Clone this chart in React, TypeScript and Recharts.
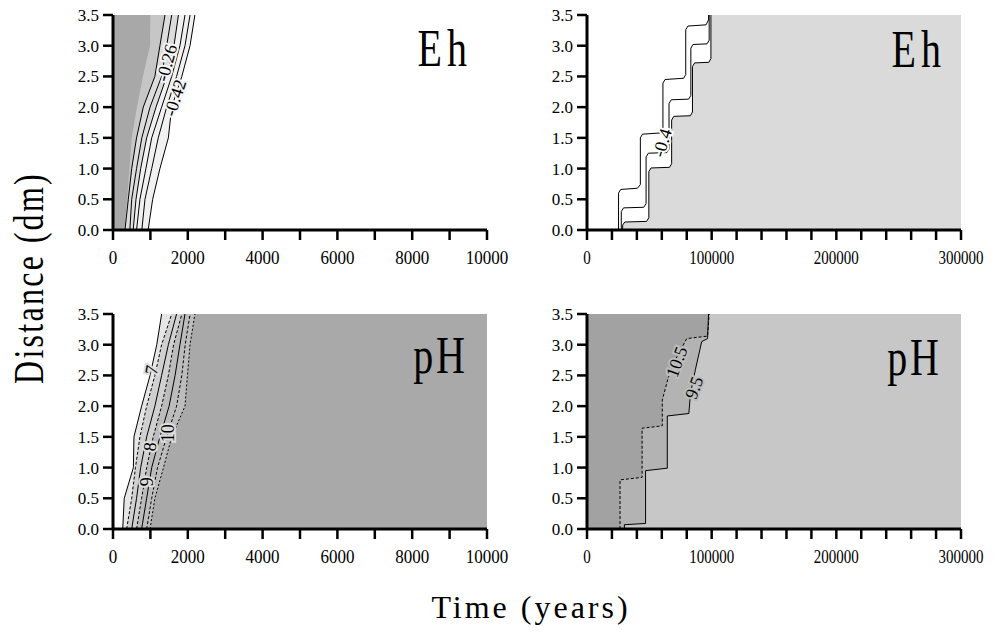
import React from 'react';
import { ComposedChart, Area, Line, XAxis, YAxis, CartesianGrid, ReferenceDot } from 'recharts';

// distance levels (dm) used by the 0-10000 yr panels
const depths = [0, 0.5, 1.0, 1.5, 2.0, 2.5, 3.0, 3.5];
const distanceTicks = [0, 0.5, 1, 1.5, 2, 2.5, 3, 3.5];
const shortTicks = [0, 1000, 2000, 3000, 4000, 5000, 6000, 7000, 8000, 9000, 10000];
const longTicks = [0, 20000, 40000, 60000, 80000, 100000, 120000, 140000, 160000, 180000, 200000, 220000, 240000, 260000, 280000, 300000];

// Eh, 0-10000 years: time (yr) of each contour at the depths above
const ehShortDark = [300, 380, 440, 500, 640, 800, 990, 1000];
const ehShortC1 = [320, 410, 500, 630, 810, 1120, 1255, 1390];
const ehShortC2 = [450, 500, 630, 770, 990, 1300, 1435, 1570];
const ehShortC3 = [540, 615, 740, 900, 1150, 1435, 1630, 1750];
const ehShortC4 = [630, 720, 880, 1035, 1300, 1570, 1790, 1925];
const ehShortC5 = [770, 855, 1035, 1210, 1435, 1700, 1925, 2060];
const ehShortC6 = [940, 1060, 1255, 1480, 1570, 1840, 2060, 2190];

// Eh, 0-300000 years: stepped contours
const ehLongOuterD = [0, 0.6, 0.66, 0.68, 0.74, 1.5, 1.56, 1.58, 1.64, 2.39, 2.45, 2.47, 2.53, 3.26, 3.32, 3.34, 3.42, 3.5];
const ehLongOuterT = [25300, 25300, 27000, 40500, 42800, 42800, 44500, 59000, 60900, 60900, 62600, 77500, 79200, 79200, 81000, 95500, 97500, 97500];
const ehLongMidD = [0, 0.3, 0.36, 0.37, 0.43, 1.19, 1.25, 1.26, 1.32, 2.06, 2.12, 2.13, 2.19, 2.96, 3.02, 3.03, 3.09, 3.5];
const ehLongMidT = [27500, 27500, 29300, 45500, 47400, 47400, 49200, 64000, 65800, 65800, 67600, 81500, 83300, 83300, 85000, 96300, 98000, 98000];
const ehLongInnerD = [0, 0.08, 0.13, 0.14, 0.2, 0.95, 1.01, 1.02, 1.08, 1.79, 1.85, 1.86, 1.92, 2.66, 2.72, 2.73, 2.79, 3.5];
const ehLongInnerT = [28600, 28600, 30300, 47800, 49600, 49600, 51300, 66200, 67900, 67900, 69600, 82900, 84600, 84600, 86300, 97700, 99400, 99400];

// pH, 0-10000 years
const phShort7 = [260, 300, 545, 560, 765, 990, 1170, 1300];
const phShortA = [365, 500, 600, 720, 900, 1120, 1300, 1570];
const phShort8 = [500, 630, 740, 900, 1120, 1300, 1480, 1700];
const phShortB = [630, 765, 900, 1075, 1300, 1480, 1620, 1840];
const phShort9 = [765, 900, 1035, 1255, 1500, 1660, 1790, 1925];
const phShortC = [900, 1035, 1190, 1435, 1700, 1840, 1930, 2060];
const phShort10 = [990, 1120, 1350, 1570, 1925, 1990, 2060, 2190];

// pH, 0-300000 years
const ph105D = [0, 0.8, 0.84, 1.64, 1.68, 2.1, 2.45, 2.8, 3.1, 3.14, 3.5];
const ph105T = [26500, 26500, 44200, 44200, 60400, 60400, 65000, 72000, 80000, 96700, 98000];
const ph95D = [0, 0.07, 0.09, 0.95, 0.99, 1.84, 1.88, 2.2, 2.6, 3.05, 3.1, 3.5];
const ph95T = [30000, 30000, 47000, 47000, 64400, 64400, 81700, 83000, 87000, 92000, 96700, 97500];

// contour labels: [time, distance, text, angle]
const ehShortLabels: [number, number, string, number][] = [
  [1435, 2.72, '-0.26', -75],
  [1660, 2.15, '-0.42', -72],
];
const ehLongLabels: [number, number, string, number][] = [[60400, 1.42, '-0.4', -73]];
const phShortLabels: [number, number, string, number][] = [
  [1030, 2.59, '7', -80],
  [990, 1.34, '8', -85],
  [900, 0.77, '9', -90],
  [1480, 1.56, '10', -90],
];
const phLongLabels: [number, number, string, number][] = [
  [72000, 2.72, '10.5', -70],
  [86000, 2.3, '9.5', -70],
];

const pts = (ds: number[], ts: number[]) => ds.map((d, i) => ({ d, t: ts[i] }));

type Fill = { data: { d: number; t: number }[]; color: string; right?: boolean };
type Contour = { data: { d: number; t: number }[]; dash?: string };

const font = '"Liberation Serif", "Times New Roman", Times, serif';

function Panel(props: {
  left: number;
  top: number;
  xMax: number;
  ticks: number[];
  labelStep: number;
  xFont: number;
  xStretch: number;
  bg: string;
  fills: Fill[];
  lines: Contour[];
  labels: [number, number, string, number][];
  halo: string;
}) {
  const { left, top, xMax, ticks, labelStep, xFont, xStretch, bg, fills, lines, labels, halo } = props;

  const xTick = (p: any) => {
    const v = p.payload.value;
    if (v % labelStep !== 0) return <g />;
    return (
      <g transform={`translate(${p.x},${p.y})`}>
        <text
          transform={`scale(1,${xStretch})`}
          textAnchor="middle"
          dy="0.71em"
          fontSize={xFont}
          fontFamily={font}
          fill="#000"
        >
          {String(v)}
        </text>
      </g>
    );
  };

  return (
    <div style={{ position: 'absolute', left, top, fontFamily: font }}>
      <ComposedChart
        width={530}
        height={272}
        layout="vertical"
        margin={{ top: 15, right: 43, bottom: 0, left: 0 }}
        style={{ fontFamily: font }}
      >
        <CartesianGrid horizontal={false} vertical={false} fill={bg} fillOpacity={1} />
        <XAxis
          type="number"
          domain={[0, xMax]}
          ticks={ticks}
          interval={0}
          allowDataOverflow
          height={42}
          tickSize={10}
          tickMargin={11}
          axisLine={{ stroke: '#000', strokeWidth: 3 }}
          tickLine={{ stroke: '#000', strokeWidth: 2.5 }}
          tick={xTick}
        />
        <XAxis
          xAxisId="top"
          orientation="top"
          type="number"
          domain={[0, xMax]}
          height={0}
          tick={false}
          tickLine={false}
          axisLine={{ stroke: '#000', strokeWidth: 3 }}
        />
        <YAxis
          type="number"
          dataKey="d"
          domain={[0, 3.5]}
          reversed
          ticks={distanceTicks}
          interval={0}
          allowDataOverflow
          width={113}
          tickSize={10}
          tickMargin={4}
          axisLine={{ stroke: '#000', strokeWidth: 3 }}
          tickLine={{ stroke: '#000', strokeWidth: 2.5 }}
          tick={{ fill: '#000', fontSize: 17, fontFamily: font }}
          tickFormatter={(v: number) => v.toFixed(1)}
        />
        <YAxis
          yAxisId="right"
          orientation="right"
          type="number"
          domain={[0, 3.5]}
          reversed
          width={0}
          tick={false}
          tickLine={false}
          axisLine={{ stroke: '#000', strokeWidth: 3 }}
        />
        {fills.map((f, i) => (
          <Area
            key={'f' + i}
            data={f.data}
            dataKey="t"
            type="linear"
            stroke="none"
            fill={f.color}
            fillOpacity={1}
            baseValue={f.right ? 'dataMax' : 0}
            isAnimationActive={false}
          />
        ))}
        {lines.map((l, i) => (
          <Line
            key={'l' + i}
            data={l.data}
            dataKey="t"
            type="linear"
            stroke="#000"
            strokeWidth={1}
            strokeDasharray={l.dash}
            dot={false}
            activeDot={false}
            isAnimationActive={false}
          />
        ))}
        {labels.map(([t, d, text, angle], i) => (
          <ReferenceDot
            key={'t' + i}
            x={t}
            y={d}
            r={0}
            shape={(p: any) => (
              <text
                x={p.cx}
                y={p.cy}
                transform={`rotate(${angle} ${p.cx} ${p.cy})`}
                textAnchor="middle"
                dominantBaseline="central"
                fontSize={18}
                fontFamily={font}
                fill="#000"
                stroke={halo}
                strokeWidth={4}
                style={{ paintOrder: 'stroke' }}
              >
                {text}
              </text>
            )}
          />
        ))}
      </ComposedChart>
    </div>
  );
}

export default function App() {
  const ehS = (ts: number[]) => pts(depths, ts);
  return (
    <div style={{ position: 'absolute', left: 0, top: 0, width: 998, height: 640, background: '#fff', fontFamily: font }}>
      <Panel
        left={0}
        top={0}
        xMax={10000}
        ticks={shortTicks}
        labelStep={2000}
        xFont={17}
        xStretch={1.05}
        bg="#ffffff"
        halo="#f4f4f4"
        fills={[
          { data: ehS(ehShortC6), color: '#f1f1f1' },
          { data: ehS(ehShortC3), color: '#dcdcdc' },
          { data: ehS(ehShortC1), color: '#c6c6c6' },
          { data: ehS(ehShortDark), color: '#a8a8a8' },
        ]}
        lines={[ehShortC1, ehShortC2, ehShortC3, ehShortC4, ehShortC5, ehShortC6].map((c) => ({ data: ehS(c) }))}
        labels={ehShortLabels}
      />
      <Panel
        left={474}
        top={0}
        xMax={300000}
        ticks={longTicks}
        labelStep={100000}
        xFont={15}
        xStretch={1.2}
        bg="#ffffff"
        halo="#ffffff"
        fills={[{ data: pts(ehLongInnerD, ehLongInnerT), color: '#dadada', right: true }]}
        lines={[
          { data: pts(ehLongOuterD, ehLongOuterT) },
          { data: pts(ehLongMidD, ehLongMidT) },
          { data: pts(ehLongInnerD, ehLongInnerT) },
        ]}
        labels={ehLongLabels}
      />
      <Panel
        left={0}
        top={299}
        xMax={10000}
        ticks={shortTicks}
        labelStep={2000}
        xFont={17}
        xStretch={1.05}
        bg="#a9a9a9"
        halo="#dddddd"
        fills={[
          { data: ehS(phShort10), color: '#bcbcbc' },
          { data: ehS(phShortB), color: '#d0d0d0' },
          { data: ehS(phShortA), color: '#e6e6e6' },
          { data: ehS(phShort7), color: '#ffffff' },
        ]}
        lines={[
          { data: ehS(phShort7) },
          { data: ehS(phShortA), dash: '3 2' },
          { data: ehS(phShort8) },
          { data: ehS(phShortB), dash: '3 2' },
          { data: ehS(phShort9) },
          { data: ehS(phShortC), dash: '3 2' },
          { data: ehS(phShort10), dash: '2 2' },
        ]}
        labels={phShortLabels}
      />
      <Panel
        left={474}
        top={299}
        xMax={300000}
        ticks={longTicks}
        labelStep={100000}
        xFont={15}
        xStretch={1.2}
        bg="#c7c7c7"
        halo="#bdbdbd"
        fills={[
          { data: pts(ph95D, ph95T), color: '#b3b3b3' },
          { data: pts(ph105D, ph105T), color: '#a2a2a2' },
        ]}
        lines={[
          { data: pts(ph105D, ph105T), dash: '3 2' },
          { data: pts(ph95D, ph95T) },
        ]}
        labels={phLongLabels}
      />
      <svg width={998} height={640} style={{ position: 'absolute', left: 0, top: 0, pointerEvents: 'none' }}>
        <g style={{ fontFamily: font }} fill="#000">
          <text transform="translate(472 66) scale(1 1.3)" textAnchor="end" fontSize={40} letterSpacing={5}>Eh</text>
          <text transform="translate(946 67) scale(1 1.3)" textAnchor="end" fontSize={40} letterSpacing={5}>Eh</text>
          <text transform="translate(468 373) scale(1 1.3)" textAnchor="end" fontSize={40} letterSpacing={3}>pH</text>
          <text transform="translate(942 375) scale(1 1.3)" textAnchor="end" fontSize={40} letterSpacing={3}>pH</text>
          <text transform="translate(43 278) rotate(-90) scale(1 1.3)" textAnchor="middle" fontSize={32} letterSpacing={2.3}>Distance (dm)</text>
          <text x={531} y={618} textAnchor="middle" fontSize={32} letterSpacing={3}>Time (years)</text>
        </g>
      </svg>
    </div>
  );
}
